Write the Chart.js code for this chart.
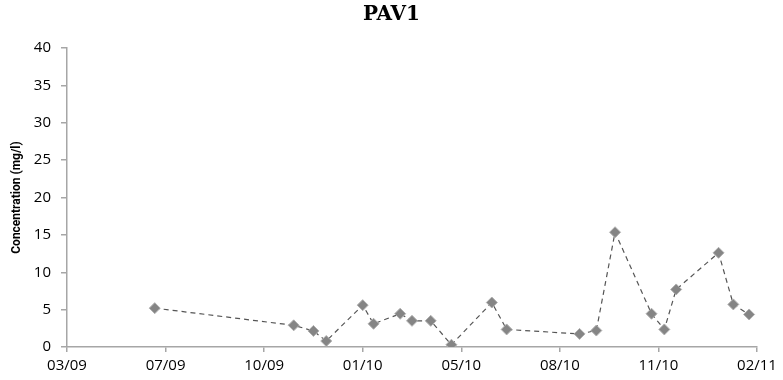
<!DOCTYPE html>
<html lang="en">
<head>
<meta charset="UTF-8">
<title>PAV1</title>
<style>
  html, body { margin: 0; padding: 0; background: #fff; }
  #wrap { width: 783px; height: 380px; }
</style>
</head>
<body>
<div id="wrap"><canvas id="chart" width="783" height="380"></canvas></div>
<script src="https://cdn.jsdelivr.net/npm/chart.js"></script>
<script>
// sample dates and measured concentration (mg/l)
const sampleDates = [
  '2009-06-25', '2009-11-13', '2009-12-03', '2009-12-16', '2010-01-22',
  '2010-02-02', '2010-03-01', '2010-03-13', '2010-04-01', '2010-04-22',
  '2010-06-02', '2010-06-17', '2010-08-30', '2010-09-16', '2010-10-05',
  '2010-11-11', '2010-11-24', '2010-12-06', '2011-01-18', '2011-02-02',
  '2011-02-18'
];
const concentrations = [
  5.2, 2.9, 2.15, 0.8, 5.6,
  3.1, 4.45, 3.5, 3.5, 0.3,
  5.95, 2.35, 1.75, 2.2, 15.35,
  4.45, 2.35, 7.7, 12.6, 5.7,
  4.35
];
// x axis runs on spreadsheet day numbers, one tick every 100 days
const xMin = 39900, xMax = 40600, xStep = 100;
const yTicks = [0, 5, 10, 15, 20, 25, 30, 35, 40];

const EPOCH = Date.UTC(1899, 11, 30);
function toSerial(s) {
  const p = s.split('-').map(Number);
  return (Date.UTC(p[0], p[1] - 1, p[2]) - EPOCH) / 86400000;
}
function serialLabel(v) {
  const d = new Date(EPOCH + v * 86400000);
  const mm = String(d.getUTCMonth() + 1).padStart(2, '0');
  const yy = String(d.getUTCFullYear() % 100).padStart(2, '0');
  return mm + '/' + yy;
}

const points = sampleDates.map((s, i) => ({ x: toSerial(s), y: concentrations[i] }));
const axisGrey = '#a6a6a6';
const tickFont = { family: '"Open Sans", sans-serif', size: 15 };

new Chart(document.getElementById('chart'), {
  type: 'scatter',
  data: {
    datasets: [{
      data: points,
      showLine: true,
      borderColor: '#555555',
      borderWidth: 1.2,
      borderDash: [5, 4],
      pointStyle: 'rectRot',
      pointRadius: 5.5,
      pointBackgroundColor: '#858585',
      pointBorderColor: '#b0b0b0',
      pointBorderWidth: 1,
      pointHoverRadius: 5.5
    }]
  },
  options: {
    responsive: false,
    animation: false,
    layout: { padding: 0 },
    plugins: {
      legend: { display: false },
      tooltip: { enabled: false },
      title: {
        display: true,
        text: 'PAV1',
        color: '#000',
        font: { family: '"DejaVu Serif", serif', size: 20, weight: 'bold' },
        padding: { top: 3, bottom: 21 }
      }
    },
    scales: {
      x: {
        type: 'linear',
        min: xMin,
        max: xMax,
        afterBuildTicks: axis => {
          const t = [];
          for (let v = xMin; v <= xMax; v += xStep) t.push({ value: v });
          axis.ticks = t;
        },
        afterFit: axis => { axis.paddingRight = 26; },
        ticks: {
          color: '#000',
          font: tickFont,
          padding: 5,
          maxRotation: 0,
          callback: v => serialLabel(v)
        },
        grid: { drawOnChartArea: false, color: axisGrey, tickLength: 5, lineWidth: 1.5 },
        border: { color: axisGrey, width: 1.5 }
      },
      y: {
        min: 0,
        max: 40,
        afterBuildTicks: axis => { axis.ticks = yTicks.map(v => ({ value: v })); },
        afterFit: axis => { axis.width = 67; },
        ticks: { color: '#000', font: tickFont, padding: 10 },
        grid: { drawOnChartArea: false, color: axisGrey, tickLength: 6, lineWidth: 1.5 },
        border: { color: axisGrey, width: 1.5 },
        title: {
          display: true,
          text: 'Concentration (mg/l)',
          color: '#000',
          font: { family: '"Liberation Sans Narrow", "Roboto", sans-serif', size: 12, weight: 'bold' },
          padding: { top: 10, bottom: 6 }
        }
      }
    }
  }
});
</script>
</body>
</html>
